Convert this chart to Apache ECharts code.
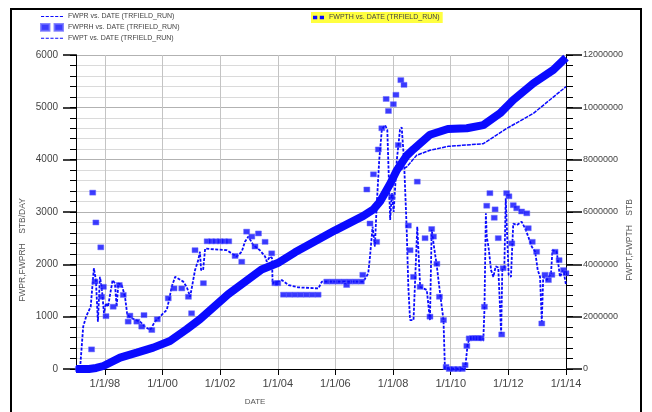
<!DOCTYPE html>
<html><head><meta charset="utf-8">
<script src="https://cdn.jsdelivr.net/npm/echarts@6/dist/echarts.min.js"></script>
<style>html,body{margin:0;padding:0;background:#fff}#c{width:652px;height:412px}</style>
</head><body><div id="c"></div>
<script>
// ---- data (decimal years) ----
const fwprYears = [1997.0,1997.14,1997.25,1997.35,1997.51,1997.62,1997.69,1997.76,1997.83,1997.89,
1997.97,1998.04,1998.11,1998.27,1998.35,1998.41,1998.47,1998.59,1998.70,1998.78,
1998.93,1999.22,1999.39,1999.57,1999.74,1999.91,2000.15,2000.24,2000.32,2000.44,
2000.72,2000.84,2000.96,2001.13,2001.24,2001.30,2001.34,2001.41,2001.48,2001.54,
2002.23,2002.40,2002.58,2002.75,2002.86,2002.98,2003.15,2003.38,2003.56,2003.62,
2003.73,2003.80,2003.82,2004.14,2004.37,2004.71,2005.41,2005.53,2005.99,2006.97,
2007.14,2007.20,2007.29,2007.37,2007.43,2007.52,2007.61,2007.72,2007.80,2007.90,
2007.96,2008.02,2008.13,2008.24,2008.30,2008.38,2008.47,2008.53,2008.59,2008.71,
2008.84,2008.94,2009.17,2009.28,2009.34,2009.42,2009.52,2009.63,2009.75,2009.80,
2010.50,2010.52,2010.59,2010.67,2010.96,2011.13,2011.17,2011.22,2011.25,2011.31,
2011.40,2011.48,2011.56,2011.65,2011.75,2011.79,2011.86,2011.91,2012.01,2012.09,
2012.17,2012.29,2012.46,2012.58,2012.69,2012.81,2012.93,2013.02,2013.10,2013.16,
2013.21,2013.33,2013.48,2013.53,2013.68,2013.79,2013.91,2014.0];
const fwprValues = [0,0,810,1000,1190,1925,1700,905,1760,1570,
1070,1260,1190,1700,1640,1190,1640,1600,1380,1030,
970,905,810,745,905,1000,1130,1350,1570,1760,
1670,1570,1380,1890,2080,2240,1890,1890,2300,2270,
2270,2210,2150,2240,2430,2530,2370,2270,2150,2050,
2150,2120,1640,1700,1605,1560,1540,1670,1670,1670,
1830,2150,2720,2340,3100,3990,4570,4660,4570,2850,
3360,3000,3990,4570,4620,3990,2720,1570,935,935,
2720,1570,1510,935,2660,2340,1960,1450,935,0,
0,110,490,585,560,540,1130,2975,2530,2340,
1890,1760,1960,1940,680,1890,1925,3260,1800,1760,
2780,2750,2815,2690,2530,2340,2240,1890,1760,905,
1760,1700,1830,2270,2240,1760,1890,1605];

const fwprhYears = [1997.08,1997.21,1997.37,1997.54,1997.58,1997.66,1997.69,1997.86,1997.89,1997.95,
1998.04,1998.29,1998.50,1998.64,1998.81,1998.87,1999.11,1999.28,1999.36,1999.63,
1999.82,2000.20,2000.40,2000.67,2000.90,2001.01,2001.13,2001.42,2001.55,2001.70,
2001.85,2002.00,2002.15,2002.30,2002.52,2002.75,2002.92,2003.10,2003.21,2003.33,
2003.56,2003.79,2003.90,2004.00,2004.20,2004.40,2004.60,2004.80,2005.00,2005.20,
2005.40,2005.70,2005.90,2006.10,2006.30,2006.39,2006.50,2006.70,2006.90,2006.95,
2007.09,2007.20,2007.32,2007.43,2007.49,2007.61,2007.76,2007.84,2007.95,2008.01,
2008.10,2008.18,2008.27,2008.38,2008.53,2008.59,2008.71,2008.84,2008.94,2009.11,
2009.28,2009.34,2009.40,2009.52,2009.61,2009.75,2009.84,2009.95,2010.10,2010.25,
2010.40,2010.50,2010.56,2010.64,2010.75,2010.85,2010.95,2011.05,2011.17,2011.25,
2011.36,2011.51,2011.54,2011.65,2011.77,2011.82,2011.94,2012.02,2012.12,2012.17,
2012.29,2012.46,2012.64,2012.69,2012.83,2012.98,2013.16,2013.27,2013.39,2013.51,
2013.62,2013.76,2013.91,2014.0];
const fwprhValues = [0,0,0,375,3370,1670,2800,2325,1380,1570,
1010,1190,1605,1415,905,1020,905,810,1030,745,
950,1350,1540,1540,1380,1065,2270,1640,2440,2440,
2440,2440,2440,2440,2160,2050,2625,2530,2340,2590,
2430,2210,1640,1640,1420,1420,1420,1420,1420,1420,
1420,1670,1670,1670,1670,1605,1670,1670,1670,1800,
3430,2780,3720,2430,4195,4600,5160,4930,3290,5060,
5240,4280,5520,5430,2740,2270,1760,3580,1570,2500,
1000,2675,2530,2010,1380,935,40,0,0,0,
0,75,440,585,590,590,590,590,1190,3120,
3360,2890,3050,2500,660,1925,3360,3300,2400,3130,
3070,3010,2975,2690,2430,2240,870,1800,1700,1800,
2240,2080,1890,1830];

const fwpthYears = [1997.0,1997.45,1997.7,1997.95,1998.53,1999.11,1999.68,2000.26,2000.84,2001.3,
2002.28,2003.44,2004.0,2004.6,2005.99,2006.97,2007.32,2007.55,2007.9,2008.13,
2008.47,2008.71,2009.28,2009.9,2010.56,2011.13,2011.71,2012.17,2012.87,2013.56,2014.0];
const fwpthValues = [0,0,40000,115000,433000,625000,817000,1070000,1520000,1900000,
2860000,3800000,4050000,4460000,5300000,5850000,6100000,6400000,7080000,7600000,
8150000,8400000,8950000,9170000,9200000,9320000,9770000,10280000,10920000,11430000,11900000];

const fwptYears = [1997.0,1997.45,1997.7,1997.95,1998.53,1999.11,1999.68,2000.26,2000.84,2001.3,
2002.28,2003.44,2004.0,2004.6,2005.99,2006.97,2007.32,2007.55,2007.9,2008.13,
2008.47,2008.82,2009.28,2009.92,2011.13,2011.94,2012.87,2014.0];
const fwptValues = [0,0,40000,115000,433000,625000,817000,1070000,1520000,1900000,
2860000,3800000,4050000,4460000,5300000,5850000,6100000,6400000,7080000,7550000,
7720000,8170000,8360000,8510000,8610000,9190000,9770000,10790000];

const xTickYears = [1998,2000,2002,2004,2006,2008,2010,2012,2014];
const xTickLabels = ['1/1/98','1/1/00','1/1/02','1/1/04','1/1/06','1/1/08','1/1/10','1/1/12','1/1/14'];

const seriesNames = ['FWPR vs. DATE (TRFIELD_RUN)','FWPRH vs. DATE (TRFIELD_RUN)','FWPT vs. DATE (TRFIELD_RUN)','FWPTH vs. DATE (TRFIELD_RUN)'];

// ---- chart ----
const zip = (a, b) => a.map((v, i) => [v, b[i]]);
const BLUE = '#0a0aff';
const FONT = 'Liberation Sans, Arial, sans-serif';
const chart = echarts.init(document.getElementById('c'), null, {renderer: 'canvas'});
const X0 = 1997, X1 = 2014, GL = 76, GR = 86;
const gridW = 652 - GL - GR;
const tickGridLeft = GL + (xTickYears[0] - X0) / (X1 - X0) * gridW;

const ICON_DASH = 'path://M0,0h3v1h-3z M4.5,0h3v1h-3z M9,0h3v1h-3z M13.5,0h3v1h-3z M18,0h3v1h-3z';
const ICON_SQ2 = 'path://M0,0h5v4h-5z M8,0h5v4h-5z';
const plain = v => String(v);

chart.setOption({
  animation: false,
  backgroundColor: '#fff',
  textStyle: {fontFamily: FONT},
  grid: [
    {left: GL, right: GR, top: 55, bottom: 43},
    {left: tickGridLeft, right: GR, top: 55, bottom: 43}
  ],
  legend: [
    {left: 40, top: 13, orient: 'vertical', itemWidth: 22, itemGap: 3, itemHeight: 7,
     data: [{name: seriesNames[0], icon: ICON_DASH}, {name: seriesNames[1], icon: ICON_SQ2}, {name: seriesNames[2], icon: ICON_DASH}],
     textStyle: {fontSize: 7, color: '#444', fontFamily: FONT}, padding: 0},
    {left: 311, top: 12, itemWidth: 11, itemHeight: 5, itemGap: 4, backgroundColor: '#ffff40',
     padding: [2, 3, 2, 2], data: [{name: seriesNames[3], icon: ICON_SQ2}],
     textStyle: {fontSize: 7, color: '#444', fontFamily: FONT}}
  ],
  xAxis: [
    {gridIndex: 0, type: 'value', min: X0, max: X1,
     axisLine: {show: true, lineStyle: {color: '#000', width: 1}},
     axisTick: {show: false}, axisLabel: {show: false}, splitLine: {show: false}},
    {gridIndex: 1, type: 'value', min: xTickYears[0], max: X1, interval: 2,
     axisLine: {show: false},
     axisTick: {show: true, inside: false, length: 6, lineStyle: {color: '#000'}},
     axisLabel: {margin: 9, fontSize: 11, color: '#444', fontFamily: FONT,
       formatter: v => { const i = xTickYears.indexOf(Math.round(v)); return i >= 0 ? xTickLabels[i] : ''; }},
     splitLine: {show: true, lineStyle: {color: '#c4c4c4', width: 1}}}
  ],
  yAxis: [
    // 0: left minor ticks / light grid
    {gridIndex: 0, type: 'value', position: 'left', min: 0, max: 6000, interval: 200,
     axisLine: {show: true, lineStyle: {color: '#000'}},
     axisTick: {show: true, inside: false, length: 6, lineStyle: {color: '#000'}},
     axisLabel: {show: false},
     splitLine: {show: true, lineStyle: {color: '#dadada'}}},
    // 1: left major
    {gridIndex: 0, type: 'value', position: 'left', min: 0, max: 6000, interval: 1000,
     axisLine: {show: true, lineStyle: {color: '#000'}},
     axisTick: {show: true, inside: false, length: 13, lineStyle: {color: '#000', width: 1.5}},
     axisLabel: {margin: 18, fontSize: 10, color: '#444', fontFamily: FONT, formatter: plain},
     splitLine: {show: true, lineStyle: {color: '#b2b2b2'}}},
    // 2: right minor
    {gridIndex: 0, type: 'value', position: 'right', min: 0, max: 12000000, interval: 400000,
     axisLine: {show: true, lineStyle: {color: '#000'}},
     axisTick: {show: true, inside: false, length: 7, lineStyle: {color: '#000'}},
     axisLabel: {show: false}, splitLine: {show: false}},
    // 3: right major
    {gridIndex: 0, type: 'value', position: 'right', min: 0, max: 12000000, interval: 2000000,
     axisLine: {show: true, lineStyle: {color: '#000'}},
     axisTick: {show: true, inside: false, length: 16, lineStyle: {color: '#000', width: 1.5}},
     axisLabel: {margin: 17, fontSize: 9, color: '#444', fontFamily: FONT, formatter: plain},
     splitLine: {show: false}},
    {gridIndex: 1, type: 'value', min: 0, max: 1, show: false}
  ],
  series: [
    {name: seriesNames[0], type: 'line', xAxisIndex: 0, yAxisIndex: 1, symbol: 'none',
     data: zip(fwprYears, fwprValues), z: 3,
     lineStyle: {color: BLUE, width: 1.8, type: [3, 1.5]}, itemStyle: {color: BLUE}},
    {name: seriesNames[1], type: 'scatter', xAxisIndex: 0, yAxisIndex: 1, symbol: 'rect',
     symbolSize: [6, 5], data: zip(fwprhYears, fwprhValues), z: 4,
     itemStyle: {color: BLUE, borderColor: '#6a6aff', borderWidth: 0.6}},
    {name: seriesNames[2], type: 'line', xAxisIndex: 0, yAxisIndex: 3, symbol: 'none',
     data: zip(fwptYears, fwptValues), z: 3,
     lineStyle: {color: BLUE, width: 1.5, type: [4, 1]}, itemStyle: {color: BLUE}},
    {name: seriesNames[3], type: 'line', xAxisIndex: 0, yAxisIndex: 3, symbol: 'none',
     data: zip(fwpthYears, fwpthValues), z: 5,
     lineStyle: {color: BLUE, width: 8}, itemStyle: {color: BLUE}}
  ],
  graphic: [
    {type: 'polyline', shape: {points: [[11, 414], [11, 9], [641, 9], [641, 414]]},
     style: {stroke: '#000', lineWidth: 2, fill: null}, silent: true},
    {type: 'text', x: 255, y: 402, style: {text: 'DATE', fontSize: 8, fill: '#555', fontFamily: FONT, align: 'center', verticalAlign: 'middle'}},
    {type: 'text', x: 23, y: 250, rotation: Math.PI / 2,
     style: {text: 'FWPR,FWPRH    STB/DAY', fontSize: 8.5, fill: '#555', fontFamily: FONT, align: 'center', verticalAlign: 'middle'}},
    {type: 'text', x: 630, y: 240, rotation: Math.PI / 2,
     style: {text: 'FWPT,FWPTH    STB', fontSize: 8.5, fill: '#555', fontFamily: FONT, align: 'center', verticalAlign: 'middle'}}
  ]
});
</script>
</body></html>
